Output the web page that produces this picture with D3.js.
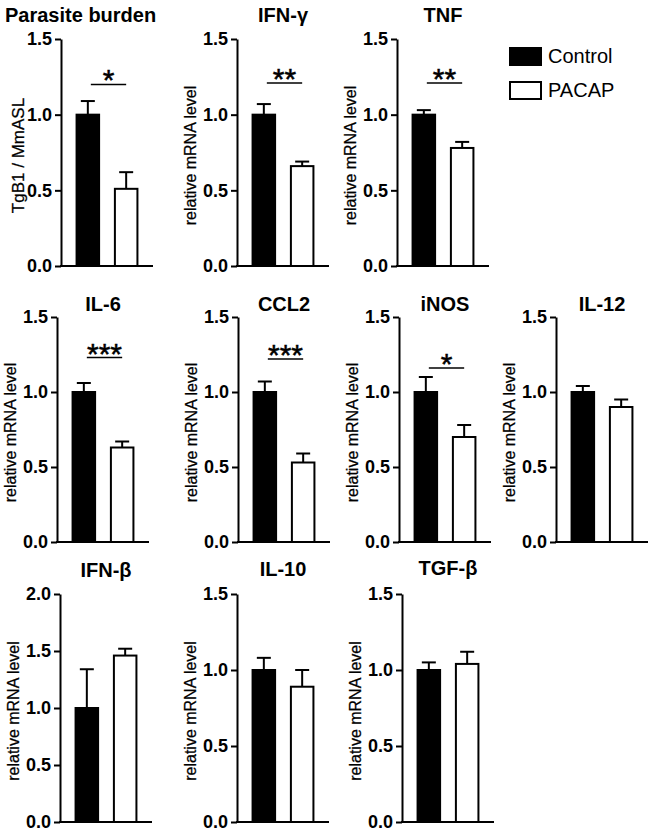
<!DOCTYPE html>
<html>
<head>
<meta charset="utf-8">
<script src="https://cdn.jsdelivr.net/npm/d3@7"></script>
<style>
  html, body { margin: 0; padding: 0; background: #fff; }
  svg { display: block; }
  text { font-family: "Liberation Sans", Arial, Helvetica, sans-serif; fill: #000; }
</style>
</head>
<body>
<svg id="chart" width="649" height="833"></svg>
<script>
// ---------------- DATA ----------------
const panelTitles = ["Parasite burden", "IFN-γ", "TNF", "IL-6", "CCL2", "iNOS", "IL-12", "IFN-β", "IL-10", "TGF-β"];
const yAxisLabels = ["TgB1 / MmASL", "relative mRNA level", "relative mRNA level", "relative mRNA level",
  "relative mRNA level", "relative mRNA level", "relative mRNA level", "relative mRNA level",
  "relative mRNA level", "relative mRNA level"];
const groups = ["Control", "PACAP"];
const controlMean = [1.00, 1.00, 1.00, 1.00, 1.00, 1.00, 1.00, 1.00, 1.00, 1.00];
const controlErr  = [0.09, 0.07, 0.03, 0.06, 0.07, 0.10, 0.04, 0.34, 0.08, 0.05];
const pacapMean   = [0.51, 0.66, 0.78, 0.63, 0.53, 0.70, 0.90, 1.46, 0.89, 1.04];
const pacapErr    = [0.11, 0.03, 0.04, 0.04, 0.06, 0.08, 0.05, 0.06, 0.11, 0.08];
const yMax        = [1.5, 1.5, 1.5, 1.5, 1.5, 1.5, 1.5, 2.0, 1.5, 1.5];
const significance = ["*", "**", "**", "***", "***", "*", "", "", "", ""];
const sigLevel     = [1.20, 1.21, 1.21, 1.23, 1.22, 1.16, 0, 0, 0, 0];
const tickValues15 = [0, 0.5, 1.0, 1.5];
const tickValues20 = [0, 0.5, 1.0, 1.5, 2.0];

// ---------------- LAYOUT ----------------
const axisX   = [61, 237, 397, 57, 238, 399, 556, 60, 237, 402];
const rowOf   = [0, 0, 0, 1, 1, 1, 1, 2, 2, 2];
const rowTop  = [39, 317, 594];
const rowBot  = [266, 542, 822];
const titleY  = [22, 22, 22, 311, 311, 311, 311, 577, 576, 575];
const plotW = 92;

const svg = d3.select("#chart");

panelTitles.forEach((title, i) => {
  const x0 = axisX[i];
  const top = rowTop[rowOf[i]], bot = rowBot[rowOf[i]];
  const g = svg.append("g");

  const x = d3.scaleBand().domain(groups).range([x0, x0 + plotW])
    .paddingInner(0.36).paddingOuter(0.38);
  const y = d3.scaleLinear().domain([0, yMax[i]]).range([bot, top]);

  const means = [controlMean[i], pacapMean[i]];
  const errs = [controlErr[i], pacapErr[i]];
  const data = groups.map((k, j) => ({ k, m: means[j], e: errs[j] }));

  // error bars (upper only)
  const eb = g.selectAll(".eb").data(data).enter().append("g");
  eb.append("line")
    .attr("x1", d => x(d.k) + x.bandwidth() / 2).attr("x2", d => x(d.k) + x.bandwidth() / 2)
    .attr("y1", d => y(d.m)).attr("y2", d => y(d.m + d.e))
    .attr("stroke", "#000").attr("stroke-width", 2);
  eb.append("line")
    .attr("x1", d => x(d.k) + x.bandwidth() / 2 - 7).attr("x2", d => x(d.k) + x.bandwidth() / 2 + 7)
    .attr("y1", d => y(d.m + d.e)).attr("y2", d => y(d.m + d.e))
    .attr("stroke", "#000").attr("stroke-width", 2);

  // bars
  g.selectAll(".bar").data(data).enter().append("rect")
    .attr("x", d => x(d.k) + 1).attr("width", x.bandwidth() - 2)
    .attr("y", d => y(d.m)).attr("height", d => y(0) - y(d.m))
    .attr("fill", d => d.k === "Control" ? "#000" : "#fff")
    .attr("stroke", "#000").attr("stroke-width", 2);

  // y axis
  const tv = yMax[i] === 2.0 ? tickValues20 : tickValues15;
  const ya = g.append("g").attr("transform", `translate(${x0},0)`)
    .call(d3.axisLeft(y).tickValues(tv).tickFormat(d3.format(".1f")).tickSize(6).tickPadding(3).tickSizeOuter(0));
  ya.attr("font-size", null).attr("font-family", null);
  ya.select(".domain").attr("stroke", "#000").attr("stroke-width", 2);
  ya.selectAll(".tick line").attr("stroke", "#000").attr("stroke-width", 2);
  ya.selectAll(".tick text").attr("font-size", 18).attr("font-weight", "bold")
    .style("font-family", "'Liberation Sans', Arial, sans-serif");

  // x axis line
  g.append("line").attr("x1", x0 - 1).attr("x2", x0 + plotW)
    .attr("y1", y(0)).attr("y2", y(0))
    .attr("stroke", "#000").attr("stroke-width", 2);

  // y label
  g.append("text")
    .attr("transform", `translate(${x0 - (i === 0 ? 37 : 41)},${(top + bot) / 2 + 3}) rotate(-90)`)
    .attr("text-anchor", "middle")
    .attr("font-size", i === 0 ? 17 : 16)
    .attr("stroke", "#000").attr("stroke-width", 0.25)
    .text(yAxisLabels[i]);

  // title
  const tx = i === 0 ? 5 : x0 + plotW / 2;
  g.append("text").attr("x", tx).attr("y", titleY[i])
    .attr("text-anchor", i === 0 ? "start" : "middle")
    .attr("font-size", 20).attr("font-weight", "bold")
    .text(title);

  // significance
  if (significance[i]) {
    const cx1 = x("Control") + x.bandwidth() / 2 + 3;
    const cx2 = x("PACAP") + x.bandwidth() / 2;
    const ys = y(sigLevel[i]);
    g.append("line").attr("x1", cx1).attr("x2", cx2).attr("y1", ys).attr("y2", ys)
      .attr("stroke", "#000").attr("stroke-width", 1.5);
    g.append("text").attr("x", (cx1 + cx2) / 2).attr("y", ys + 6)
      .attr("text-anchor", "middle").attr("font-size", 30)
      .attr("stroke", "#000").attr("stroke-width", 0.5)
      .text(significance[i]);
  }
});

// legend
const legend = svg.append("g");
groups.forEach((k, j) => {
  legend.append("rect").attr("x", 510).attr("y", 48 + j * 34).attr("width", 31).attr("height", 17)
    .attr("fill", k === "Control" ? "#000" : "#fff").attr("stroke", "#000").attr("stroke-width", 2);
  legend.append("text").attr("x", 548).attr("y", 63 + j * 34).attr("font-size", 20).text(k);
});
</script>
</body>
</html>
